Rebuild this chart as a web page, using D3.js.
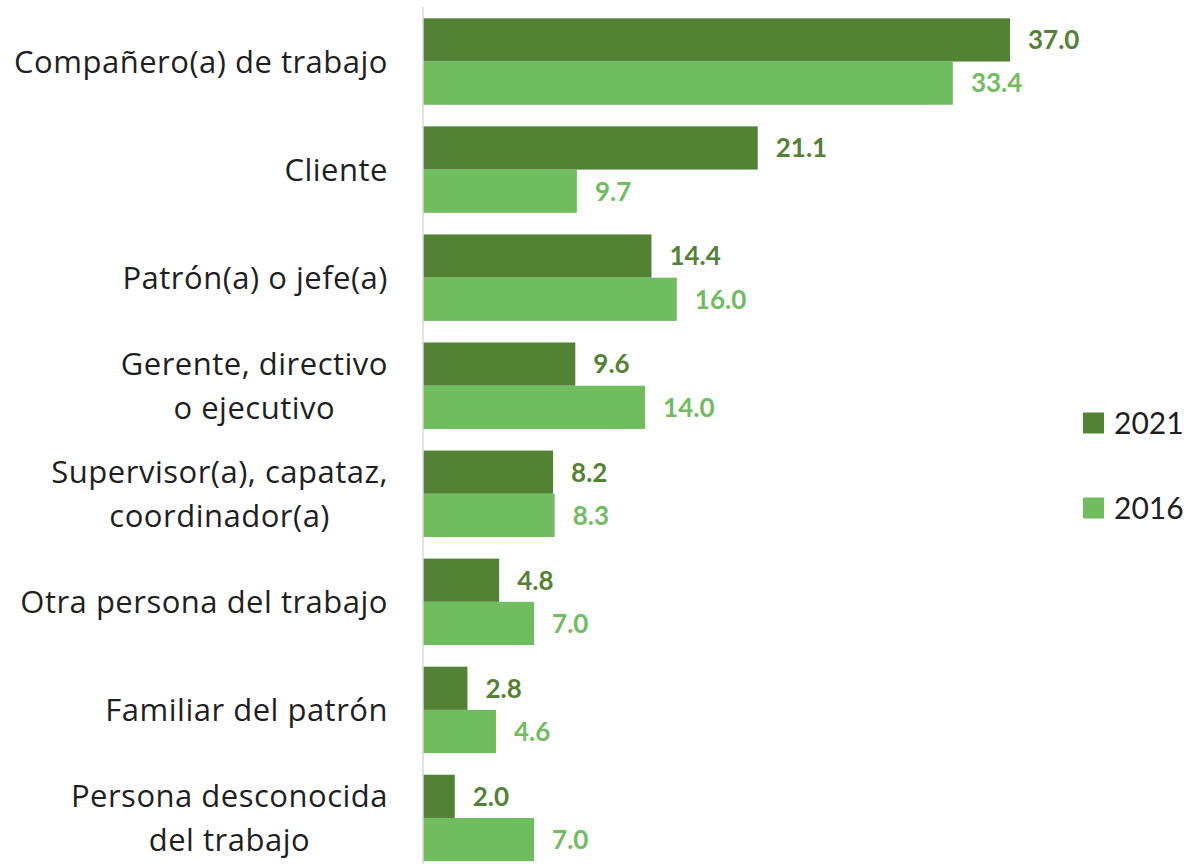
<!doctype html>
<html>
  <head>
    <meta charset="utf-8">
    <title>Agresor</title>
    <script src="https://d3js.org/d3.v7.min.js"></script>
    <style type="text/css">
      body { margin: 0; background-color: #ffffff; }
      text { font-family: Lato, "Open Sans", sans-serif; }
      text.cat { font-family: "Open Sans", Lato, sans-serif; letter-spacing: 0.5px; }
    </style>
  </head>
  <body>
    <script>
      // data
      var categories = [
        ["Compañero(a) de trabajo"],
        ["Cliente"],
        ["Patrón(a) o jefe(a)"],
        ["Gerente, directivo", "o ejecutivo"],
        ["Supervisor(a), capataz,", "coordinador(a)"],
        ["Otra persona del trabajo"],
        ["Familiar del patrón"],
        ["Persona desconocida", "del trabajo"]
      ];
      var series = ["2021", "2016"];
      var values2021 = [37.0, 21.1, 14.4, 9.6, 8.2, 4.8, 2.8, 2.0];
      var values2016 = [33.4, 9.7, 16.0, 14.0, 8.3, 7.0, 4.6, 7.0];
      var colors = ["#548235", "#70bd60"];

      var w = 1190, h = 864;
      var svg = d3.select("body").append("svg")
        .attr("width", w).attr("height", h);

      var keys = categories.map(function(d, i) { return i; });

      var y = d3.scaleBand()
        .domain(keys)
        .range([7.5, 872])
        .paddingInner(0.2)
        .paddingOuter(0.1);

      var ySub = d3.scaleBand()
        .domain(series)
        .range([0, y.bandwidth()]);

      var x = d3.scaleLinear()
        .domain([0, 40])
        .range([423, 423 + 40 * 15.865]);

      var rows = keys.map(function(i) {
        return { i: i, vals: [values2021[i], values2016[i]] };
      });

      var groups = svg.selectAll("g.grp")
        .data(rows)
        .enter().append("g")
        .attr("class", "grp")
        .attr("transform", function(d) { return "translate(0," + y(d.i) + ")"; });

      groups.selectAll("rect")
        .data(function(d) { return d.vals.map(function(v, k) { return { v: v, k: k }; }); })
        .enter().append("rect")
        .attr("x", x(0))
        .attr("y", function(d) { return ySub(series[d.k]); })
        .attr("width", function(d) { return x(d.v) - x(0); })
        .attr("height", ySub.bandwidth())
        .attr("fill", function(d) { return colors[d.k]; });

      groups.selectAll("text.val")
        .data(function(d) { return d.vals.map(function(v, k) { return { v: v, k: k }; }); })
        .enter().append("text")
        .attr("class", "val")
        .attr("x", function(d) { return x(d.v) + 18; })
        .attr("y", function(d) { return ySub(series[d.k]) + ySub.bandwidth() / 2; })
        .attr("dy", "0.36em")
        .attr("fill", function(d) { return colors[d.k]; })
        .style("font-size", "26px")
        .style("font-weight", "bold")
        .text(function(d) { return d3.format(".1f")(d.v); });

      // axis line
      svg.append("line")
        .attr("x1", x(0)).attr("x2", x(0))
        .attr("y1", 7).attr("y2", h)
        .attr("stroke", "#d9d9d9")
        .attr("stroke-width", 1.5);

      // category labels
      var lineH = 44;
      var labelRight = 388;
      groups.each(function(d) {
        var g = d3.select(this);
        var lines = categories[d.i];
        var cy = y.bandwidth() / 2;
        var t = g.append("text")
          .attr("class", "cat")
          .attr("fill", "#1f1f1f")
          .style("font-size", "31px");
        var spans = t.selectAll("tspan")
          .data(lines)
          .enter().append("tspan")
          .attr("y", function(l, j) { return cy + (j - (lines.length - 1) / 2) * lineH; })
          .attr("dy", "0.36em")
          .text(function(l) { return l; });
        var maxW = 0;
        spans.each(function() { maxW = Math.max(maxW, this.getComputedTextLength()); });
        t.attr("text-anchor", "middle");
        spans.attr("x", labelRight - maxW / 2);
      });

      // legend
      var legend = svg.selectAll("g.leg")
        .data(series)
        .enter().append("g")
        .attr("class", "leg")
        .attr("transform", function(d, i) { return "translate(1083," + (423 + i * 85) + ")"; });
      legend.append("rect")
        .attr("x", 0).attr("y", -10.5)
        .attr("width", 21).attr("height", 21)
        .attr("fill", function(d, i) { return colors[i]; });
      legend.append("text")
        .attr("x", 31).attr("y", 0)
        .attr("dy", "0.36em")
        .attr("fill", "#1f1f1f")
        .style("font-size", "30px")
        .text(function(d) { return d; });
    </script>
  </body>
</html>
